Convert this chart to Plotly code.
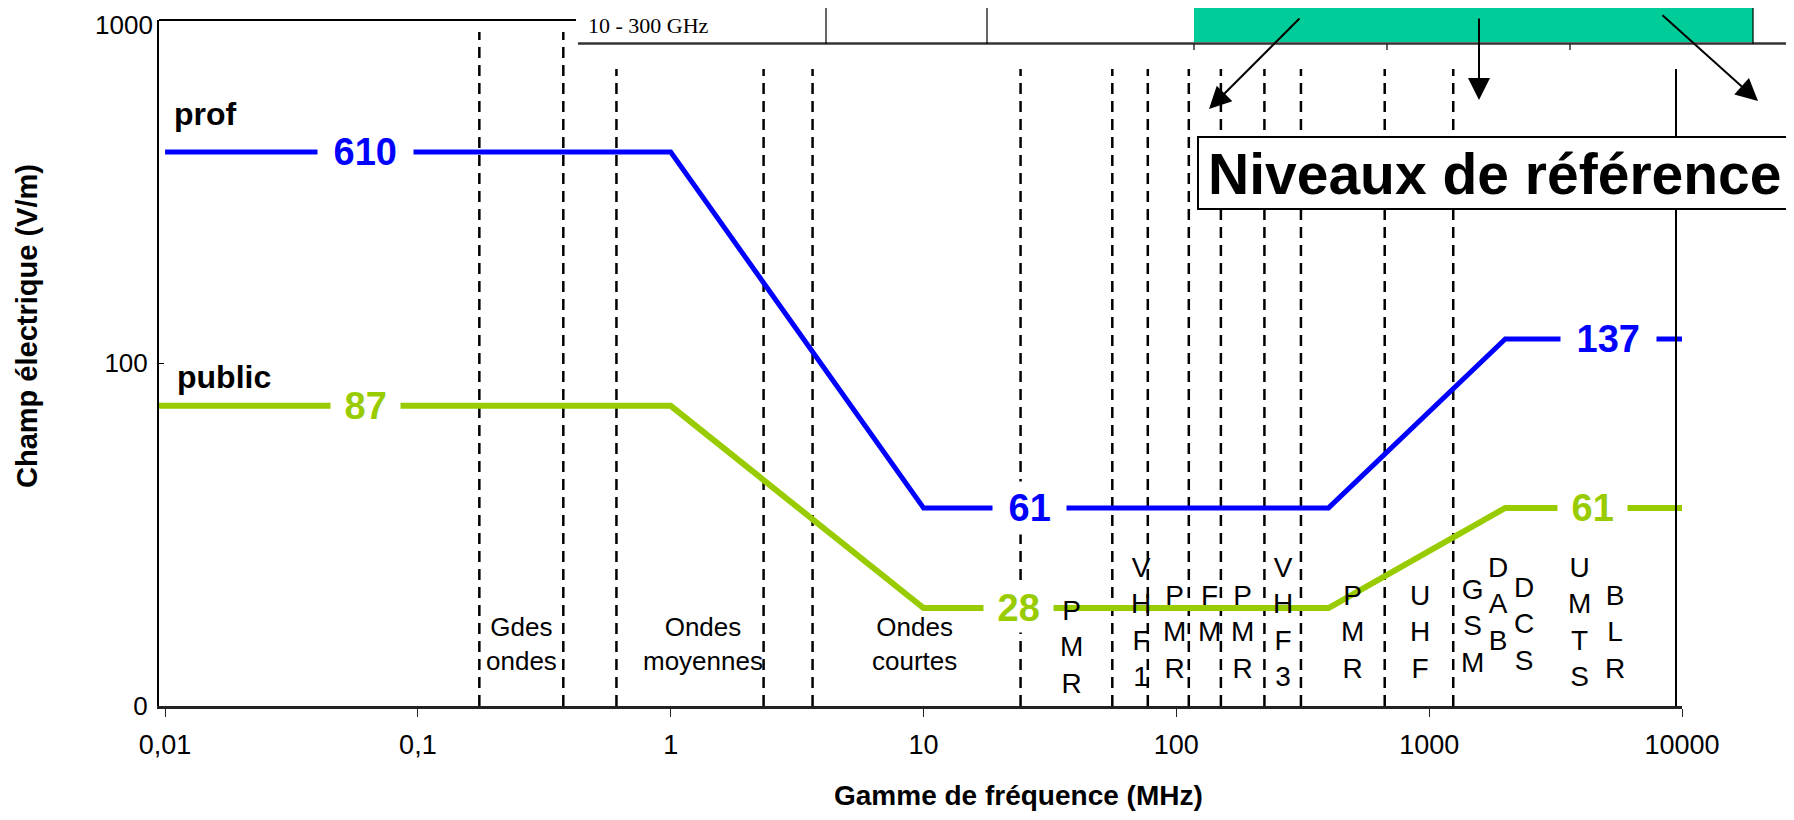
import math
import plotly.graph_objects as go

# ---------------- data ----------------
freq_prof = [0.01, 1, 10, 400, 2000, 10000]
prof_level = [412, 412, 37.8, 37.8, 117.5, 117.5]
freq_public = [0.0094, 1, 10, 400, 2000, 10000]
public_level = [75, 75, 19.3, 19.3, 37.8, 37.8]

prof_labels = ["610", "61", "137"]
prof_label_freq = [0.0623, 26.3, 5110]
prof_label_level = [412, 37.8, 117.5]
public_labels = ["87", "28", "61"]
public_label_freq = [0.0623, 23.8, 4420]
public_label_level = [75, 19.3, 37.8]

band_edges = [0.175, 0.376, 0.61, 2.33, 3.64, 24.2, 55.8, 77.1, 112, 150, 223, 311, 667, 1245]

word_bands = ["Gdes ondes", "Ondes moyennes", "Ondes courtes"]
word_band_freq = [0.258, 1.34, 9.2]
letter_bands = ["PMR", "VHF1", "PMR", "FM", "PMR", "VHF3", "PMR", "UHF", "GSM", "DAB", "DCS", "UMTS", "BLR"]
letter_band_freq = [38.4, 72.4, 98, 135, 183, 263, 498, 920, 1485, 1868, 2375, 3918, 5409]
letter_band_top_px = [612, 569, 597, 597, 597, 569, 597, 597, 591, 569, 589, 569, 597]

x_tickvals = [0.01, 0.1, 1, 10, 100, 1000, 10000]
x_ticktext = ["0,01", "0,1", "1", "10", "100", "1000", "10000"]
y_tickvals = [10, 100, 1000]
y_ticktext = ["0", "100", "1000"]

# ---------------- layout geometry (screen pixels) ----------------
W, H = 1794, 820
BODY = 8                      # default page margin around the figure
FW, FH = W - BODY, H - 2 * BODY
L, R, T, B = 159, 1682, 20, 706

def px(x):
    return (x - L) / (R - L)

def py(y):
    return (B - y) / (B - T)

lg = math.log10

BLUE = "#0000FF"
GREEN = "#99CC00"
TEAL = "#00CC99"
FONT = "Liberation Sans, Arial, sans-serif"
NARROW = "Liberation Sans Narrow, Arial Narrow, Liberation Sans, Arial, sans-serif"

fig = go.Figure()
fig.add_trace(go.Scatter(x=freq_prof, y=prof_level, mode="lines",
                         line=dict(color=BLUE, width=5), showlegend=False, hoverinfo="skip"))
fig.add_trace(go.Scatter(x=freq_public, y=public_level, mode="lines",
                         line=dict(color=GREEN, width=6), showlegend=False, hoverinfo="skip"))

shapes = []
for f in band_edges:
    top = py(32) if f < 0.5 else py(69)
    shapes.append(dict(type="line", xref="x", yref="paper", x0=f, x1=f, y0=0, y1=top,
                       line=dict(color="black", width=2.5, dash="11px,7px"), layer="below"))
# plot frame pieces
shapes.append(dict(type="line", xref="paper", yref="paper", x0=0, x1=px(576), y0=1, y1=1,
                   line=dict(color="black", width=2)))
shapes.append(dict(type="line", xref="paper", yref="paper", x0=px(1676), x1=px(1676), y0=0, y1=py(69),
                   line=dict(color="black", width=2)))
# table fragment on top
shapes.append(dict(type="rect", xref="paper", yref="paper", x0=px(1194), x1=px(1753), y0=py(42), y1=py(-5),
                   fillcolor=TEAL, line=dict(width=0)))
shapes.append(dict(type="line", xref="paper", yref="paper", x0=px(578), x1=px(1800), y0=py(43.5), y1=py(43.5),
                   line=dict(color="#333333", width=2.5)))
for xv in [826, 987, 1753]:
    shapes.append(dict(type="line", xref="paper", yref="paper", x0=px(xv), x1=px(xv), y0=py(44), y1=py(-5),
                       line=dict(color="black", width=1.2)))
for xv in [1194, 1387, 1570]:
    shapes.append(dict(type="line", xref="paper", yref="paper", x0=px(xv), x1=px(xv), y0=py(44), y1=py(50),
                       line=dict(color="black", width=1.2)))
# Niveaux de reference box
shapes.append(dict(type="rect", xref="paper", yref="paper", x0=px(1198), x1=px(1787), y0=py(209), y1=py(137),
                   fillcolor="white", line=dict(color="black", width=2)))

ann = []
def add(**kw):
    kw.setdefault("showarrow", False)
    kw.setdefault("xanchor", "center")
    kw.setdefault("yanchor", "middle")
    ann.append(kw)

for t, f, v in zip(prof_labels, prof_label_freq, prof_label_level):
    add(x=lg(f), y=lg(v), xref="x", yref="y", text="\u00a0" + t + "\u00a0",
        font=dict(family=FONT, size=38, color=BLUE, weight="bold"), bgcolor="white", borderpad=5)
for t, f, v in zip(public_labels, public_label_freq, public_label_level):
    add(x=lg(f), y=lg(v), xref="x", yref="y", text="\u00a0" + t + "\u00a0",
        font=dict(family=FONT, size=38, color=GREEN, weight="bold"), bgcolor="white", borderpad=3)

add(x=px(172), y=py(114), xref="paper", yref="paper", text="prof", xanchor="left",
    font=dict(family=FONT, size=32, color="black", weight="bold"))
add(x=px(175), y=py(377), xref="paper", yref="paper", text="public", xanchor="left",
    font=dict(family=FONT, size=32, color="black", weight="bold"))

for t, f in zip(word_bands, word_band_freq):
    add(x=lg(f), y=py(610), xref="x", yref="paper", text="<br>".join(t.split(" ")),
        yanchor="top", font=dict(family=NARROW, size=26, color="black"))
for t, f, tp in zip(letter_bands, letter_band_freq, letter_band_top_px):
    add(x=lg(f), y=py(tp - 19), xref="x", yref="paper", text="<br>".join(list(t)),
        yanchor="top", font=dict(family=NARROW, size=28, color="black"))

add(x=px(1494), y=py(174), xref="paper", yref="paper", text="Niveaux de référence",
    font=dict(family=FONT, size=57, color="black", weight="bold"))

# top y tick label (drawn as text so it stays inside the page)
add(x=px(155), y=py(8), xref="paper", yref="paper", text=y_ticktext[-1], xanchor="right", yanchor="top",
    font=dict(family=NARROW, size=26, color="black"))

# table fragment text
add(x=px(586), y=py(25), xref="paper", yref="paper", text="10 - 300 GHz", xanchor="left",
    font=dict(family="Liberation Serif, Times New Roman, serif", size=22, color="black"))

# arrows from the table
for hx, hy, axp, ayp in [(1209, 109, 92, -92), (1479, 100, 0, -83), (1758, 101, -97, -87)]:
    add(x=px(hx), y=py(hy), xref="paper", yref="paper", text="", showarrow=True,
        ax=axp, ay=ayp, arrowhead=2, arrowsize=2.2, arrowwidth=2, arrowcolor="black")

# axis titles
add(x=px(27), y=py(326), xref="paper", yref="paper", text="Champ électrique (V/m)", textangle=-90,
    font=dict(family=FONT, size=29, color="black", weight="bold"))
add(x=px(1018), y=py(795), xref="paper", yref="paper", text="Gamme de fréquence (MHz)",
    font=dict(family=FONT, size=28, color="black", weight="bold"))

fig.update_layout(
    width=FW, height=FH,
    margin=dict(l=L - BODY, r=FW - (R - BODY), t=T - BODY, b=FH - (B - BODY)),
    paper_bgcolor="white", plot_bgcolor="white",
    shapes=shapes, annotations=ann,
    xaxis=dict(type="log", range=[-2.024, 4.0], tickvals=x_tickvals, ticktext=x_ticktext,
               showgrid=False, zeroline=False, showline=True, linecolor="#222222", linewidth=3,
               ticks="outside", ticklen=8, tickcolor="#222222", tickwidth=1, automargin=False,
               tickfont=dict(family=NARROW, size=27, color="black"), ticklabelstandoff=5),
    yaxis=dict(type="log", range=[1, 3], tickvals=y_tickvals,
               ticktext=y_ticktext[:-1] + [""],
               showgrid=False, zeroline=False, showline=True, linecolor="black", linewidth=2,
               ticks="inside", ticklen=5, tickcolor="black", tickwidth=1, automargin=False,
               ticklabelstandoff=4,
               tickfont=dict(family=NARROW, size=26, color="black")),
)

fig.write_html("out.html")
